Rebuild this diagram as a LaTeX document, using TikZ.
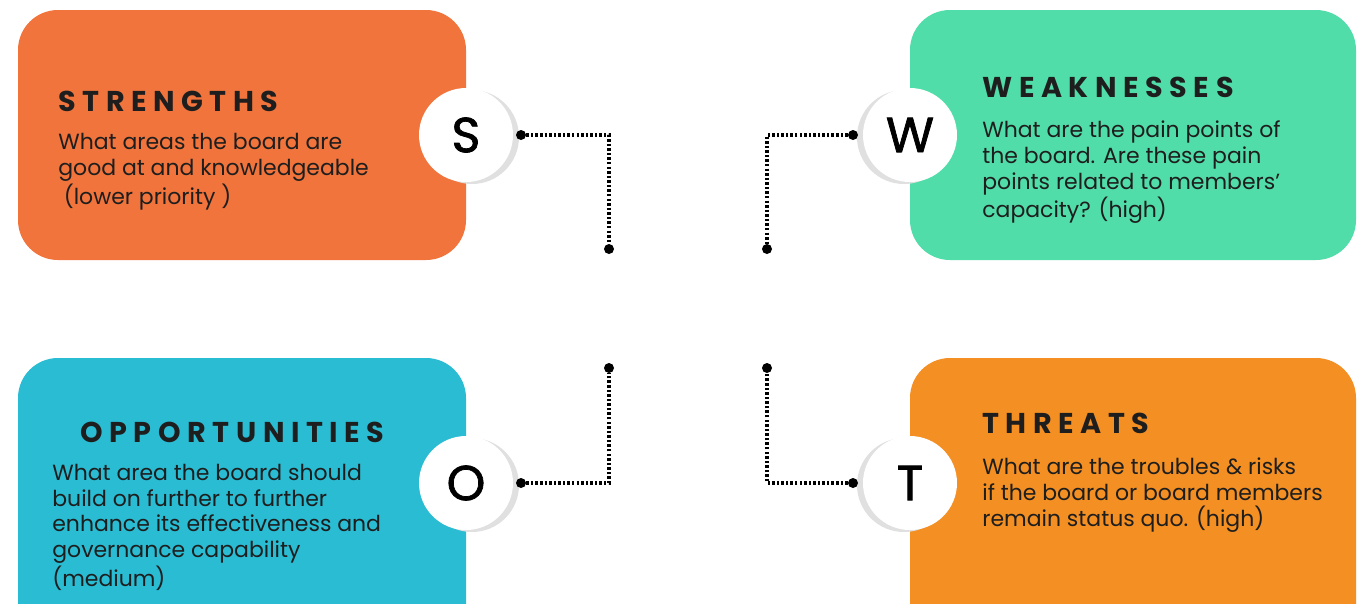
\documentclass[tikz,border=0pt]{standalone}
\usepackage{fontspec}
\setmainfont{Poppins}
\newfontfamily\headfont[LetterSpace=23]{Poppins}
\newfontfamily\discfont[FakeBold=1.5]{Poppins}
\definecolor{strengthsorange}{HTML}{F0743C}
\definecolor{weakgreen}{HTML}{50DDA9}
\definecolor{oppcyan}{HTML}{29BCD3}
\definecolor{threatorange}{HTML}{F38F23}
\definecolor{inkdark}{HTML}{1E1E1E}
\tikzset{
  cardtitle/.style={anchor=base west, inner sep=0, text=inkdark, font=\headfont\bfseries\fontsize{16.3}{18}\selectfont},
  cardbody/.style={anchor=base west, inner sep=0, align=left, text=inkdark, font=\fontsize{12.5}{14.7}\selectfont},
  letterdisc/.style={circle, fill=white, inner sep=0, minimum size=1.88cm, font=\discfont\fontsize{28}{30}\selectfont},
  discshadow/.style={circle, fill=black!12, inner sep=0, minimum size=1.88cm},
  joint/.style={circle, fill=black, inner sep=0, minimum size=0.2cm},
  link/.style={line width=1.8pt, dash pattern=on 1.4pt off 1.2pt}
}
\begin{document}
\begin{tikzpicture}[x=0.02cm, y=-0.02cm]
\clip (0,0) rectangle (1363,603);
\fill[white] (0,0) rectangle (1363,603);
% cards
\fill[strengthsorange, rounded corners=0.8cm] (18,10) rectangle (466,260);
\fill[weakgreen, rounded corners=0.8cm] (910,10) rectangle (1356,260);
\fill[oppcyan, rounded corners=0.8cm] (18,358) rectangle (466,650);
\fill[threatorange, rounded corners=0.8cm] (910,358) rectangle (1356,650);
% titles and texts (body nodes sit on their last baseline)
\node[cardtitle] (stitle) at (58,111) {STRENGTHS};
\node[cardbody] (sbody) at (58,204) {What areas the board are\\good at and knowledgeable\\\hspace*{0.25em}(lower priority )};
\node[cardtitle] (wtitle) at (982,97) {WEAKNESSES};
\node[cardbody] (wbody) at (982,217) {What are the pain points of\\the board. Are these pain\\points related to members'\\capacity? (high)};
\node[cardtitle] (otitle) at (80,442) {OPPORTUNITIES};
\node[cardbody] (obody) at (52,586) {What area the board should\\build on further to further\\enhance its effectiveness and\\governance capability\\(medium)};
\node[cardtitle] (ttitle) at (982,433) {THREATS};
\node[cardbody] (tbody) at (982,526) {What are the troubles \& risks\\if the board or board members\\remain status quo. (high)};
% letter discs
\node[discshadow] at (472,137) {};
\node[discshadow] at (904,137) {};
\node[discshadow] at (472,485) {};
\node[discshadow] at (904,485) {};
\node[letterdisc] (s) at (466,135) {S};
\node[letterdisc] (w) at (910,135) {W};
\node[letterdisc] (o) at (466,483) {O};
\node[letterdisc] (t) at (910,483) {T};
% connectors
\node[joint] (s1) at (521,135) {};
\node[joint] (s2) at (609,249) {};
\node[joint] (w1) at (853,135) {};
\node[joint] (w2) at (767,249) {};
\node[joint] (o1) at (521,483) {};
\node[joint] (o2) at (609,368) {};
\node[joint] (t1) at (853,483) {};
\node[joint] (t2) at (767,368) {};
\draw[link] (s1) -| (s2);
\draw[link] (w1) -| (w2);
\draw[link] (o1) -| (o2);
\draw[link] (t1) -| (t2);
\end{tikzpicture}
\end{document}
